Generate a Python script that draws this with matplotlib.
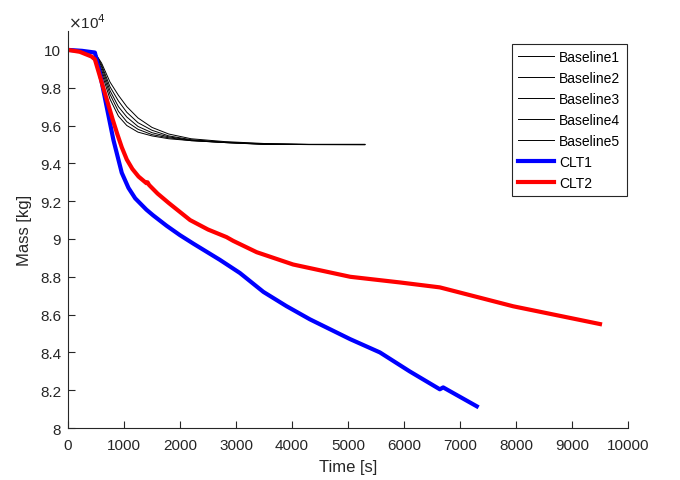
import matplotlib
matplotlib.use("Agg")
import matplotlib.pyplot as plt
from matplotlib.ticker import FuncFormatter

plt.rcParams['font.family'] = ['Liberation Sans', 'DejaVu Sans']

# ---- data (kg vs s) ----
t_base = [0, 250, 480, 600, 750, 900, 1050, 1250, 1500, 1800, 2200, 2800, 3500, 4300, 5300]
baseline1 = [100000, 99950, 99860, 99300, 98300, 97600, 97000, 96400, 95900, 95550, 95300, 95150, 95050, 95000, 95000]
baseline2 = [100000, 99950, 99860, 99200, 98050, 97300, 96700, 96150, 95750, 95450, 95250, 95120, 95030, 95000, 95000]
baseline3 = [100000, 99950, 99860, 99100, 97850, 97000, 96450, 95950, 95620, 95400, 95220, 95100, 95020, 94990, 94980]
baseline4 = [100000, 99950, 99860, 98950, 97650, 96750, 96200, 95800, 95520, 95350, 95200, 95100, 95010, 95000, 95000]
baseline5 = [100000, 99950, 99860, 98800, 97400, 96500, 96000, 95650, 95450, 95300, 95200, 95100, 95000, 95000, 95000]

t_clt1 = [0, 250, 480, 570, 690, 810, 960, 1080, 1200, 1400, 1520, 1760, 2000, 2240, 2710,
          3070, 3490, 3900, 4320, 5040, 5570, 6100, 6640, 6700, 7300]
clt1 = [100000, 99950, 99860, 98770, 97000, 95250, 93500, 92700, 92150, 91550, 91250, 90700,
        90200, 89750, 88900, 88200, 87200, 86450, 85750, 84700, 84000, 83000, 82050, 82150, 81150]

t_clt2 = [0, 210, 420, 480, 560, 640, 720, 800, 880, 960, 1050, 1150, 1260, 1400, 1420, 1450,
          1600, 1800, 2180, 2500, 2830, 2950, 3370, 4020, 5040, 5930, 6640, 7950, 9500]
clt2 = [100000, 99900, 99650, 99500, 98700, 97900, 97100, 96300, 95550, 94850, 94200, 93700,
        93300, 92950, 93000, 92850, 92400, 91900, 91000, 90500, 90100, 89900, 89300, 88650,
        88000, 87700, 87440, 86440, 85500]

x_ticks = list(range(0, 10001, 1000))
y_ticks = [80000, 82000, 84000, 86000, 88000, 90000, 92000, 94000, 96000, 98000, 100000]

# ---- figure ----
fig = plt.figure(figsize=(6.8, 4.81), dpi=100)
ax = fig.add_axes([0.1, 0.108, 0.8235, 0.8255])

gray = '#262626'
bl_series = [baseline1, baseline2, baseline3, baseline4, baseline5]
for i, b in enumerate(bl_series):
    ax.plot(t_base, b, color='black', lw=0.7, label=f'Baseline{i+1}')
ax.plot(t_clt1, clt1, color='#0000ff', lw=3, label='CLT1', solid_joinstyle='round')
ax.plot(t_clt2, clt2, color='#ff0000', lw=3, label='CLT2', solid_joinstyle='round')

ax.set_xlim(0, 10000)
ax.set_ylim(80000, 101000)
ax.set_xticks(x_ticks)
ax.set_yticks(y_ticks)
ax.yaxis.set_major_formatter(FuncFormatter(lambda v, p: f'{v/1e4:g}'))
ax.xaxis.set_major_formatter(FuncFormatter(lambda v, p: f'{int(v)}'))

for s in ['top', 'right']:
    ax.spines[s].set_visible(False)
for s in ['left', 'bottom']:
    ax.spines[s].set_color(gray)
    ax.spines[s].set_linewidth(0.8)

ax.tick_params(direction='in', length=5, width=0.8, colors=gray, labelsize=11, pad=5)
ax.tick_params(axis='x', pad=7)
ax.set_xlabel('Time [s]', fontsize=12, color=gray, labelpad=5)
ax.set_ylabel('Mass [kg]', fontsize=12, color=gray, labelpad=6)

ax.text(0.0, 1.0, r'$\times$10$^{4}$', transform=ax.transAxes, fontsize=11, color=gray,
        ha='left', va='bottom')

leg = ax.legend(loc='upper right', bbox_to_anchor=(0.998, 0.967), borderaxespad=0,
                fontsize=10, frameon=True, fancybox=False, framealpha=1,
                edgecolor=gray, handlelength=2.6, handletextpad=0.35, labelspacing=0.5,
                borderpad=0.45)
leg.get_frame().set_linewidth(0.8)

fig.savefig('out.png', dpi=100)
